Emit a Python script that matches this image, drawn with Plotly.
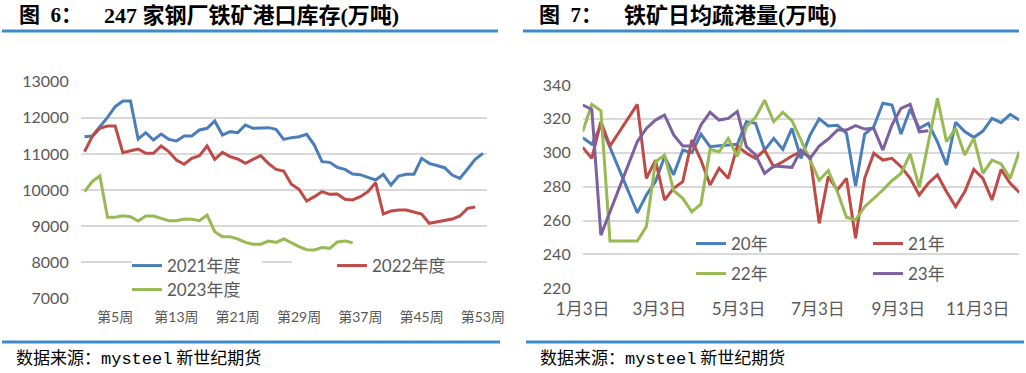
import plotly.graph_objects as go
import pandas as pd

W, H = 1026, 373

# ---------------- Left chart data: 247 steel mills port inventory (10k t) ----------------
weeks = [f"第{i}周" for i in range(1, 54)]
week_tick_labels = ["第5周", "第13周", "第21周", "第29周", "第37周", "第45周", "第53周"]

inv_2021 = [11477, 11496, 11754, 12013, 12308, 12465, 12465, 11413, 11588, 11385,
            11551, 11403, 11357, 11496, 11496, 11662, 11708, 11911, 11523, 11616,
            11588, 11800, 11708, 11708, 11727, 11680, 11403, 11450, 11477, 11542,
            11246, 10785, 10766, 10628, 10572, 10443, 10425, 10351, 10277, 10434,
            10138, 10388, 10434, 10434, 10877, 10739, 10683, 10618, 10415, 10323,
            10582, 10849, 11016]
inv_2022 = [11062, 11477, 11708, 11773, 11773, 11034, 11089, 11136, 11016, 11016,
            11219, 11062, 10831, 10712, 10877, 10951, 11219, 10849, 11043, 10923,
            10859, 10739, 10849, 10951, 10739, 10572, 10526, 10160, 10018, 9695,
            9815, 9954, 9880, 9889, 9741, 9723, 9815, 9954, 10203, 9335,
            9418, 9446, 9446, 9400, 9335, 9077, 9123, 9169, 9196, 9280,
            9492, 9530]
inv_2023 = [9954, 10231, 10388, 9243, 9243, 9289, 9261, 9141, 9280, 9280,
            9215, 9150, 9150, 9196, 9187, 9150, 9307, 8846, 8707, 8707,
            8642, 8550, 8500, 8500, 8587, 8550, 8642, 8530, 8430, 8345,
            8338, 8405, 8384, 8560, 8590, 8541]

# ---------------- Right chart data: iron ore daily port clearance (10k t) ----------------
dates = pd.date_range("2021-01-03", periods=49, freq="7D")
date_tick_vals = ["2021-01-03", "2021-03-03", "2021-05-03", "2021-07-03", "2021-09-03", "2021-11-03"]
date_tick_text = ["1月3日", "3月3日", "5月3日", "7月3日", "9月3日", "11月3日"]

ship_20 = [308.9, 305.0, 316.0, None, None, None, 264.6, 275.0, 283.0, 297.7,
           287.0, 301.6, 300.0, 311.0, 303.6, 304.2, 304.6, 305.0, 318.4, 317.4,
           301.6, 308.5, 302.0, 314.4, 296.7, 310.5, 320.0, 315.8, 316.2, 311.5,
           280.4, 311.1, 315.4, 329.2, 328.2, 311.1, 325.8, 314.4, 317.4, 306.5,
           292.8, 318.0, 312.5, 309.1, 312.8, 320.3, 317.8, 322.7, 319.3]
ship_21 = [303.2, 296.7, 318.4, 304.0, None, None, 328.6, 284.9, 295.7, 272.1,
           279.0, 282.9, 307.5, 295.7, 281.0, 290.8, 284.9, 304.0, 299.7, 296.7,
           301.6, 291.8, 294.7, 298.1, 300.6, 297.7, 258.3, 285.9, 278.0, 284.9,
           249.5, 284.9, 299.7, 295.7, 296.7, 291.8, 284.9, 275.1, 282.0, 286.9,
           277.0, 268.2, 277.0, 290.2, 284.9, 272.1, 290.2, 282.0, 276.6]
ship_22 = [312.5, 328.6, 324.8, 247.9, None, None, 247.9, 256.4, 294.7, 298.7,
           277.6, 273.1, 265.2, 269.7, 302.0, 300.6, 308.5, 297.7, 315.4, 320.9,
           331.1, 318.4, 323.9, 319.0, 307.5, 295.7, 283.9, 289.4, 277.0, 261.9,
           260.3, 268.2, 273.1, 278.0, 283.5, 287.8, 299.3, 279.6, 306.0, 332.1,
           306.5, 314.4, 298.7, 308.5, 287.8, 295.7, 293.4, 284.9, 300.6]
ship_23 = [328.2, 325.6, 251.4, None, None, None, 306.5, 314.4, 319.3, 322.3,
           310.5, 304.0, 304.0, 316.4, 323.9, 319.3, 320.3, 324.3, 303.6, 298.7,
           287.8, 292.2, 291.8, 291.4, 301.6, 296.7, 304.0, 308.1, 313.4, 313.4,
           316.0, 314.0, 314.4, 301.6, 316.4, 326.2, 328.6, 312.4, 313.0]

BLUE, RED, GREEN, PURPLE = "#4A7EBB", "#BE4B48", "#98B954", "#7D60A0"
GRID = "#D9D9D9"
TXT = "#595959"
RULE = "#3D8BCB"
SANS = "Lato, 'Noto Sans CJK SC', sans-serif"
TITLE_FONT = "'Liberation Serif', 'Noto Sans CJK SC', serif"

# left plot area (px)
LX0, LX1, LY0, LY1 = 80.7, 486.7, 81.7, 298.3
L_YMIN, L_YMAX = 7000, 13000
# right plot area (px)
RX0, RX1, RY0, RY1 = 582.7, 1019.3, 85.0, 288.3


def px(x):
    return x / W


def py(y):
    return 1 - y / H


fig = go.Figure()

fig.add_trace(go.Scatter(x=weeks[:len(inv_2021)], y=inv_2021, name="2021年度", mode="lines",
                         line=dict(color=BLUE, width=3), xaxis="x", yaxis="y", legend="legend"))
fig.add_trace(go.Scatter(x=weeks[:len(inv_2022)], y=inv_2022, name="2022年度", mode="lines",
                         line=dict(color=RED, width=3), xaxis="x", yaxis="y", legend="legend"))
fig.add_trace(go.Scatter(x=weeks[:len(inv_2023)], y=inv_2023, name="2023年度", mode="lines",
                         line=dict(color=GREEN, width=3), xaxis="x", yaxis="y", legend="legend2"))

fig.add_trace(go.Scatter(x=dates[:len(ship_20)], y=ship_20, name="20年", mode="lines", connectgaps=True,
                         line=dict(color=BLUE, width=3), xaxis="x2", yaxis="y2", legend="legend3"))
fig.add_trace(go.Scatter(x=dates[:len(ship_21)], y=ship_21, name="21年", mode="lines", connectgaps=True,
                         line=dict(color=RED, width=3), xaxis="x2", yaxis="y2", legend="legend3"))
fig.add_trace(go.Scatter(x=dates[:len(ship_22)], y=ship_22, name="22年", mode="lines", connectgaps=True,
                         line=dict(color=GREEN, width=3), xaxis="x2", yaxis="y2", legend="legend4"))
fig.add_trace(go.Scatter(x=dates[:len(ship_23)], y=ship_23, name="23年", mode="lines", connectgaps=True,
                         line=dict(color=PURPLE, width=3), xaxis="x2", yaxis="y2", legend="legend4"))

leg_common = dict(orientation="h", xanchor="left", yanchor="middle", borderwidth=0,
                  font=dict(family=SANS, size=17, color=TXT), itemwidth=30, tracegroupgap=0,
                  bgcolor="rgba(0,0,0,0)")

axis_common = dict(zeroline=False, showline=False, ticks="", automargin=False)

fig.update_layout(
    template="none",
    width=W, height=H,
    margin=dict(l=0, r=0, t=0, b=0, pad=0, autoexpand=False),
    paper_bgcolor="white", plot_bgcolor="white",
    hovermode=False,
    xaxis=dict(domain=[px(LX0), px(LX1)], type="category", categoryorder="array",
               categoryarray=weeks, range=[-0.5, 52.5], tickmode="array",
               tickvals=week_tick_labels, showgrid=False,
               tickfont=dict(family=SANS, size=14, color=TXT), anchor="y",
               ticklabelstandoff=9, **axis_common),
    yaxis=dict(domain=[py(LY1), py(LY0)], range=[L_YMIN, L_YMAX], dtick=1000, tickformat="d",
               showgrid=True, gridcolor=GRID, gridwidth=2,
               tickfont=dict(family=SANS, size=16, color=TXT), anchor="x",
               ticklabelstandoff=11, **axis_common),
    xaxis2=dict(domain=[px(RX0), px(RX1)], type="date",
                range=["2021-01-03", "2021-12-05"], tickmode="array",
                tickvals=date_tick_vals, ticktext=date_tick_text, showgrid=False,
                tickfont=dict(family=SANS, size=17, color=TXT), anchor="y2",
                ticklabelstandoff=9, **axis_common),
    yaxis2=dict(domain=[py(RY1), py(RY0)], range=[220, 340], dtick=20, tickformat="d",
                showgrid=True, gridcolor=GRID, gridwidth=2,
                tickfont=dict(family=SANS, size=16, color=TXT), anchor="x2",
                ticklabelstandoff=11, **axis_common),
    legend=dict(x=px(127), y=py(266), entrywidth=160, entrywidthmode="pixels", **leg_common),
    legend2=dict(x=px(127), y=py(290), **leg_common),
    legend3=dict(x=px(691), y=py(244), entrywidth=132, entrywidthmode="pixels", **leg_common),
    legend4=dict(x=px(691), y=py(274), entrywidth=132, entrywidthmode="pixels", **leg_common),
)


def lx_idx(xp):
    # pixel -> category index position on the left x axis
    return (xp - LX0) / (LX1 - LX0) * len(weeks) - 0.5


def ly_val(yp):
    # pixel -> value on the left y axis
    return L_YMAX - (yp - LY0) / (LY1 - LY0) * (L_YMAX - L_YMIN)


# white backing behind the left legend entries (hides gridlines, stays below the lines)
for (ax0, ax1, ay0, ay1) in [(132, 262, 254, 296), (292, 420, 255, 279)]:
    fig.add_shape(type="rect", xref="x", yref="y",
                  x0=lx_idx(ax0), x1=lx_idx(ax1), y0=ly_val(ay1), y1=ly_val(ay0),
                  fillcolor="white", line=dict(width=0), layer="between")

# titles
fig.add_annotation(text="<b>图  6：</b>", x=px(17), y=py(15), xref="paper", yref="paper",
                   xanchor="left", yanchor="middle", showarrow=False,
                   font=dict(family=TITLE_FONT, size=21, color="black"))
fig.add_annotation(text="<b>247 家钢厂铁矿港口库存(万吨)</b>", x=px(102), y=py(15), xref="paper",
                   yref="paper", xanchor="left", yanchor="middle", showarrow=False,
                   font=dict(family=TITLE_FONT, size=22, color="black"))
fig.add_annotation(text="<b>图  7：</b>", x=px(537), y=py(15), xref="paper", yref="paper",
                   xanchor="left", yanchor="middle", showarrow=False,
                   font=dict(family=TITLE_FONT, size=21, color="black"))
fig.add_annotation(text="<b>铁矿日均疏港量(万吨)</b>", x=px(622), y=py(15), xref="paper",
                   yref="paper", xanchor="left", yanchor="middle", showarrow=False,
                   font=dict(family=TITLE_FONT, size=22, color="black"))

# footers
footer = ("数据来源：<span style=\"font-family:'Liberation Mono', monospace\">mysteel</span>"
          " 新世纪期货")
for x0 in (14, 538):
    fig.add_annotation(text=footer, x=px(x0), y=py(356), xref="paper",
                       yref="paper", xanchor="left", yanchor="middle", showarrow=False,
                       font=dict(family="'Noto Sans CJK SC', sans-serif", size=17, color="black"))

# rules
for (x0, x1, y) in [(2, 498, 31), (523, 1019, 31), (2, 500, 342), (526, 1024, 342)]:
    fig.add_shape(type="line", xref="paper", yref="paper", x0=px(x0), x1=px(x1),
                  y0=py(y), y1=py(y), line=dict(color=RULE, width=3))

fig.write_html("out.html", config={"displayModeBar": False},
               post_script="document.body.style.margin='0';")
